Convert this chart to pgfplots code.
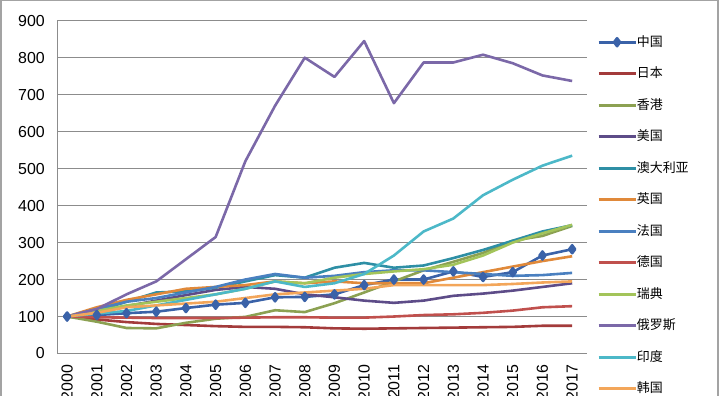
\documentclass[border=0pt]{standalone}
\usepackage{pgfplots}
\pgfplotsset{compat=1.18}
\usepackage{fontspec}
\setmainfont{Liberation Sans}
\newfontfamily\cjk{Noto Sans CJK SC}
\definecolor{cCN}{HTML}{3A62A8}
\definecolor{cJP}{HTML}{A33B3B}
\definecolor{cHK}{HTML}{8CA152}
\definecolor{cUS}{HTML}{5D4C88}
\definecolor{cAU}{HTML}{2E8FA5}
\definecolor{cUK}{HTML}{E0893A}
\definecolor{cFR}{HTML}{4A80C0}
\definecolor{cDE}{HTML}{C0504D}
\definecolor{cSE}{HTML}{A3C45A}
\definecolor{cRU}{HTML}{7B68A8}
\definecolor{cIN}{HTML}{4CB8C8}
\definecolor{cKR}{HTML}{F3A65A}
\definecolor{gridc}{HTML}{8C8C8C}
\begin{document}
\begin{tikzpicture}[x=1bp,y=1bp]
\useasboundingbox (0,0) rectangle (720,395);
\clip (0,0) rectangle (720,395);
\draw[gridc!80, line width=1.5bp] (0.75,-10) -- (0.75,394.25) -- (718,394.25) -- (718,-10);
\begin{axis}[
  at={(57bp,41.5bp)}, anchor=south west,
  scale only axis, width=530bp, height=332.8bp,
  xmin=-0.34, xmax=17.5, ymin=0, ymax=900,
  ytick={0,100,...,900},
  xtick={0,...,17},
  xticklabels={2000,2001,2002,2003,2004,2005,2006,2007,2008,2009,2010,2011,2012,2013,2014,2015,2016,2017},
  axis x line*=bottom, axis y line*=left,
  axis line style={gridc, line width=1bp, -},
  major tick length=0pt,
  ymajorgrids, grid style={gridc, line width=1bp},
  /pgf/number format/assume math mode=true,
  yticklabel style={font=\fontsize{16}{16}\selectfont, inner sep=0pt, xshift=-12bp},
  xticklabel style={font=\fontsize{16}{16}\selectfont, rotate=90, anchor=east, inner sep=0pt, xshift=-11bp},
  every axis plot/.append style={line width=2.6bp, line join=round},
  legend image code/.code={\draw[mark repeat=2,mark phase=2,#1] plot coordinates {(0bp,0bp) (18.5bp,0bp) (37bp,0bp)};},
  legend style={draw=none, fill=none, inner sep=0pt, at={(1.019,0.9555)}, anchor=north west,
    font=\cjk\fontsize{13}{13}\selectfont, row sep=18.5bp,
    nodes={inner sep=0pt, text height=10.5bp, text depth=2.5bp},
    /tikz/every even column/.append style={column sep=5bp}},
  legend cell align=left,
]
\addplot[cCN, mark=diamond*, mark size=4bp, mark options={solid, fill=cCN}] coordinates {(0,100)(1,104)(2,109)(3,113)(4,123)(5,132)(6,137)(7,152)(8,153)(9,160)(10,185)(11,200)(12,200)(13,222)(14,207)(15,220)(16,265)(17,282)};
\addlegendentry{中国}
\addplot[cJP] coordinates {(0,100)(1,92)(2,85)(3,80)(4,77)(5,74)(6,72)(7,72)(8,71)(9,68)(10,67)(11,68)(12,69)(13,70)(14,71)(15,72)(16,75)(17,75)};
\addlegendentry{日本}
\addplot[cHK] coordinates {(0,100)(1,86)(2,69)(3,68)(4,83)(5,94)(6,99)(7,117)(8,112)(9,136)(10,165)(11,195)(12,225)(13,248)(14,272)(15,305)(16,318)(17,345)};
\addlegendentry{香港}
\addplot[cUS] coordinates {(0,100)(1,112)(2,128)(3,143)(4,158)(5,172)(6,180)(7,175)(8,160)(9,152)(10,143)(11,137)(12,143)(13,156)(14,162)(15,170)(16,180)(17,190)};
\addlegendentry{美国}
\addplot[cAU] coordinates {(0,100)(1,115)(2,140)(3,165)(4,168)(5,178)(6,195)(7,212)(8,205)(9,232)(10,245)(11,232)(12,238)(13,258)(14,280)(15,305)(16,330)(17,347)};
\addlegendentry{澳大利亚}
\addplot[cUK] coordinates {(0,100)(1,125)(2,145)(3,160)(4,175)(5,180)(6,185)(7,195)(8,190)(9,195)(10,190)(11,190)(12,190)(13,205)(14,220)(15,235)(16,250)(17,263)};
\addlegendentry{英国}
\addplot[cFR] coordinates {(0,100)(1,120)(2,140)(3,150)(4,165)(5,180)(6,200)(7,215)(8,205)(9,210)(10,220)(11,225)(12,225)(13,220)(14,215)(15,210)(16,212)(17,218)};
\addlegendentry{法国}
\addplot[cDE] coordinates {(0,100)(1,98)(2,97)(3,96)(4,96)(5,96)(6,97)(7,98)(8,98)(9,97)(10,97)(11,100)(12,104)(13,106)(14,110)(15,116)(16,125)(17,128)};
\addlegendentry{德国}
\addplot[cSE] coordinates {(0,100)(1,115)(2,130)(3,140)(4,150)(5,160)(6,175)(7,195)(8,190)(9,205)(10,215)(11,222)(12,228)(13,240)(14,265)(15,300)(16,325)(17,348)};
\addlegendentry{瑞典}
\addplot[cRU] coordinates {(0,100)(1,120)(2,160)(3,195)(4,255)(5,315)(6,520)(7,670)(8,800)(9,748)(10,845)(11,677)(12,787)(13,787)(14,808)(15,785)(16,752)(17,737)};
\addlegendentry{俄罗斯}
\addplot[cIN] coordinates {(0,100)(1,108)(2,115)(3,130)(4,145)(5,160)(6,175)(7,195)(8,180)(9,190)(10,215)(11,265)(12,330)(13,365)(14,428)(15,470)(16,508)(17,535)};
\addlegendentry{印度}
\addplot[cKR] coordinates {(0,100)(1,110)(2,125)(3,130)(4,135)(5,140)(6,150)(7,160)(8,165)(9,170)(10,175)(11,185)(12,185)(13,185)(14,185)(15,188)(16,192)(17,195)};
\addlegendentry{韩国}
\end{axis}
\end{tikzpicture}
\end{document}
